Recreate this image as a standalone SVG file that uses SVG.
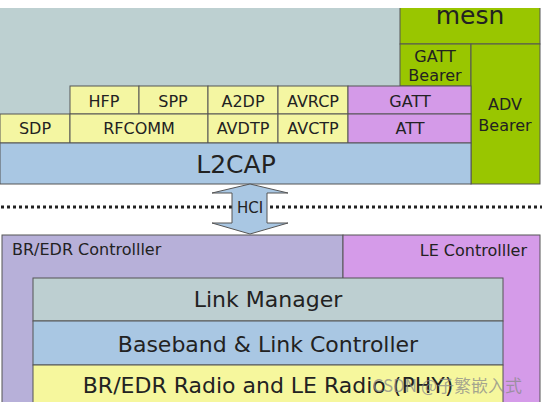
<svg xmlns="http://www.w3.org/2000/svg" width="544" height="409" viewBox="0 0 544 409">
<style>
text{font-family:"DejaVu Sans","Liberation Sans",sans-serif;fill:#222;text-anchor:middle}
.b{stroke:#555;stroke-width:1}
.y{fill:#f4f6a2}
.bl{fill:#a9c7e3}
.pu{fill:#d49ae8}
.gr{fill:#99c600}
.s{font-size:16px}
.l{font-size:22px}
</style>
<defs>
<clipPath id="c"><rect x="0" y="8" width="544" height="394"/></clipPath>
<clipPath id="cm"><rect x="400" y="10" width="140" height="34"/></clipPath>
</defs>
<rect width="544" height="409" fill="#ffffff"/>
<g clip-path="url(#c)">
<rect id="host-bg" x="0" y="7" width="400" height="107" fill="#bdd0d1"/>
<g id="mesh"><rect class="b gr" x="400" y="7" width="140" height="37"/><text x="470" y="24" clip-path="url(#cm)" style="font-size:25px">mesh</text></g>
<g id="gatt-bearer"><rect class="b gr" x="400" y="44" width="71" height="42"/><text class="s" x="435" y="62">GATT</text><text class="s" x="435" y="81">Bearer</text></g>
<g id="adv-bearer"><rect class="b gr" x="471" y="44" width="69" height="140"/><text class="s" x="505" y="110">ADV</text><text class="s" x="505" y="131">Bearer</text></g>
<g id="hfp"><rect class="b y" x="70" y="86" width="69" height="28"/><text class="s" x="104" y="107">HFP</text></g>
<g id="spp"><rect class="b y" x="139" y="86" width="69" height="28"/><text class="s" x="173" y="107">SPP</text></g>
<g id="a2dp"><rect class="b y" x="208" y="86" width="70" height="28"/><text class="s" x="243" y="107">A2DP</text></g>
<g id="avrcp"><rect class="b y" x="278" y="86" width="70" height="28"/><text class="s" x="313" y="107">AVRCP</text></g>
<g id="gatt"><rect class="b pu" x="348" y="86" width="123" height="28"/><text class="s" x="410" y="107">GATT</text></g>
<g id="sdp"><rect class="b y" x="0" y="114" width="70" height="29"/><text class="s" x="35" y="134">SDP</text></g>
<g id="rfcomm"><rect class="b y" x="70" y="114" width="138" height="29"/><text class="s" x="139" y="134">RFCOMM</text></g>
<g id="avdtp"><rect class="b y" x="208" y="114" width="70" height="29"/><text class="s" x="243" y="134">AVDTP</text></g>
<g id="avctp"><rect class="b y" x="278" y="114" width="70" height="29"/><text class="s" x="313" y="134">AVCTP</text></g>
<g id="att"><rect class="b pu" x="348" y="114" width="123" height="29"/><text class="s" x="410" y="134">ATT</text></g>
<g id="l2cap"><rect class="b bl" x="0" y="143" width="471" height="41"/><text x="236" y="173" style="font-size:25px">L2CAP</text></g>
<g id="connectors">
<line x1="1" y1="207" x2="232" y2="207" stroke="#222" stroke-width="3" stroke-dasharray="3 3"/>
<line x1="270" y1="207" x2="542" y2="207" stroke="#222" stroke-width="3" stroke-dasharray="3 3"/>
</g>
<g id="hci"><polygon class="b bl" points="250,184 288,193 267,193 267,223 288,223 250,234 212,223 232,223 232,193 212,193"/><text x="250" y="213" style="font-size:15px">HCI</text></g>
<g id="bredr-controller"><rect class="b" x="2" y="235" width="341" height="180" fill="#b7b0d9"/><text class="s" x="12" y="255" style="text-anchor:start">BR/EDR Controlller</text></g>
<g id="le-controller"><rect class="b" x="343" y="235" width="197" height="180" fill="#d59be9"/><text class="s" x="527" y="256" style="text-anchor:end">LE Controlller</text></g>
<g id="link-manager"><rect class="b" x="33" y="278" width="470" height="43" fill="#bdcfd1"/><text class="l" x="268" y="307">Link Manager</text></g>
<g id="baseband"><rect class="b bl" x="33" y="321" width="470" height="44"/><text class="l" x="268" y="352">Baseband &amp; Link Controller</text></g>
<g id="radio"><rect class="b" x="33" y="365" width="470" height="50" fill="#f6f79d"/><text class="l" x="268" y="393">BR/EDR Radio and LE Radio (PHY)</text></g>
<text x="522" y="392" style="font-family:'Noto Sans CJK SC','DejaVu Sans',sans-serif;font-size:17px;text-anchor:end;fill:#8a8a8a;fill-opacity:0.75">CSDN @子繁嵌入式</text>
</g>
</svg>
